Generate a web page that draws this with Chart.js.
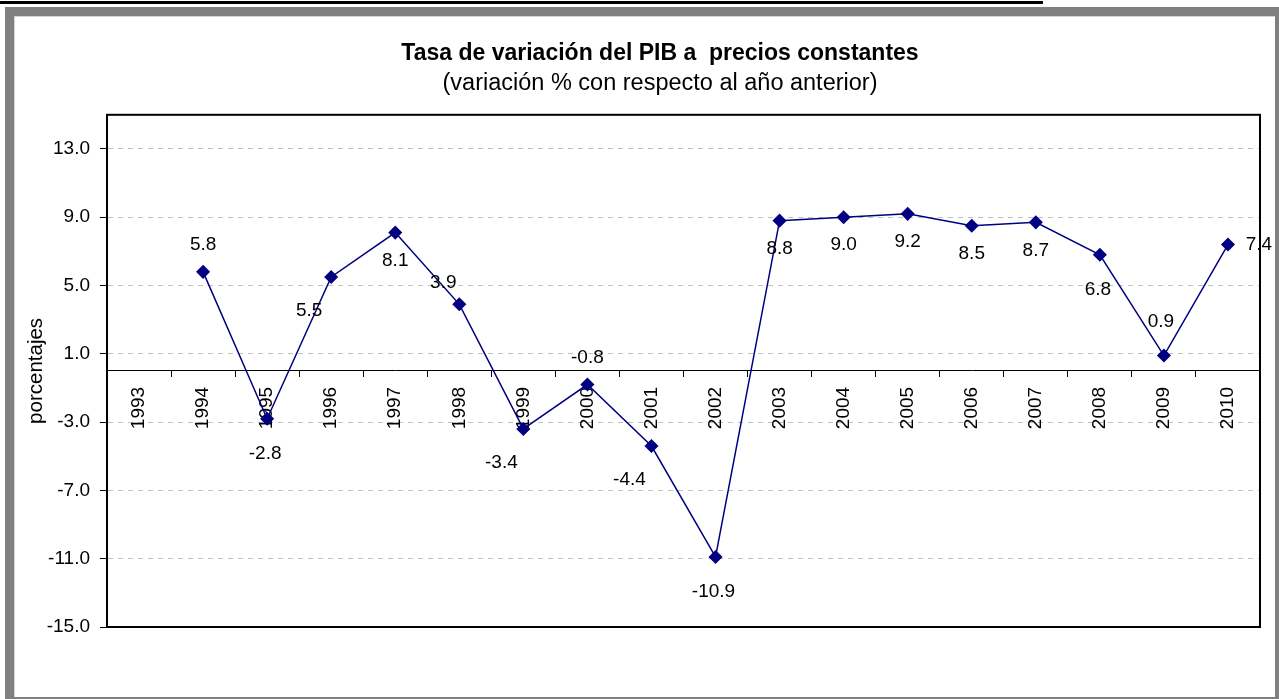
<!DOCTYPE html>
<html><head><meta charset="utf-8">
<script src="https://cdn.jsdelivr.net/npm/chart.js@4.4.0/dist/chart.umd.min.js"></script>
<style>
html,body{margin:0;padding:0;background:#fff;overflow:hidden;width:1279px;height:699px;position:relative;}
#topline{position:absolute;left:0;top:1px;width:1043px;height:3px;background:#000;}
#frame{position:absolute;left:5px;top:7px;width:1274px;height:692px;background:#808080;}
#inner{position:absolute;left:14px;top:16px;width:1261px;height:681px;background:#fff;border-left:1px solid #d4d4d4;border-top:1px solid #d4d4d4;box-sizing:border-box;}
#wrap{position:absolute;left:14px;top:16px;width:1292px;height:681px;}
</style></head>
<body>
<div id="topline"></div>
<div id="frame"></div>
<div id="inner"></div>
<div id="wrap"><canvas id="c" width="1292" height="681"></canvas></div>
<script>
const years = ['1993','1994','1995','1996','1997','1998','1999','2000','2001','2002','2003','2004','2005','2006','2007','2008','2009','2010'];
const growth = [null, 5.8, -2.8, 5.5, 8.1, 3.9, -3.4, -0.8, -4.4, -10.9, 8.8, 9.0, 9.2, 8.5, 8.7, 6.8, 0.9, 7.4];
const yTicks = [-15, -11, -7, -3, 1, 5, 9, 13];
const labelPlacement = ['none','above','belowFar','belowLeft','below','aboveLeft','belowLeft','above','belowLeft','belowFar','below','below','below','below','below','belowFar','aboveFar','right'];

const FONT = '"Liberation Sans", Arial, sans-serif';
const placeOffsets = {
  above: [0, -27], aboveFar: [-3, -34], below: [0, 28], belowFar: [-2, 35],
  belowLeft: [-22, 34], aboveLeft: [-16, -22], right: [31, 0]
};

const dataLabels = {
  id: 'dataLabels',
  afterDatasetsDraw(chart) {
    const ctx = chart.ctx;
    const meta = chart.getDatasetMeta(0);
    ctx.save();
    ctx.font = '19px ' + FONT;
    ctx.fillStyle = '#000';
    ctx.textAlign = 'center';
    ctx.textBaseline = 'middle';
    meta.data.forEach((pt, i) => {
      const v = growth[i];
      if (v === null) return;
      const off = placeOffsets[labelPlacement[i]] || [0, -27];
      ctx.fillText(v.toFixed(1), pt.x + off[0], pt.y + off[1]);
    });
    ctx.restore();
  }
};

const areaBorder = {
  id: 'areaBorder',
  beforeDatasetsDraw(chart) {
    const {ctx, chartArea: a} = chart;
    ctx.save();
    ctx.strokeStyle = '#000';
    ctx.lineWidth = 2;
    ctx.strokeRect(a.left, a.top, a.right - a.left, a.bottom - a.top);
    ctx.restore();
  }
};

// shift title/subtitle block so they are centred like the original sheet
const titleShift = {
  id: 'titleShift',
  afterLayout(chart) {
    chart.boxes.forEach(b => {
      if (b.position === 'top' && b.fullSize) { b.left = 46; }
    });
  }
};

new Chart(document.getElementById('c'), {
  type: 'line',
  data: {
    labels: years,
    datasets: [{
      data: growth,
      borderColor: '#000080',
      backgroundColor: '#000080',
      borderWidth: 1.5,
      pointStyle: 'rectRot',
      pointRadius: 6,
      pointHoverRadius: 6,
      tension: 0,
      spanGaps: false
    }]
  },
  options: {
    responsive: false,
    animation: false,
    devicePixelRatio: 1,
    layout: {padding: {left: 0, right: 46, top: 0, bottom: 70}},
    plugins: {
      legend: {display: false},
      tooltip: {enabled: false},
      title: {
        display: true,
        text: 'Tasa de variación del PIB a  precios constantes',
        color: '#000',
        font: {family: FONT, size: 23, weight: 'bold'},
        padding: {top: 24, bottom: 2}
      },
      subtitle: {
        display: true,
        text: '(variación % con respecto al año anterior)',
        color: '#000',
        font: {family: FONT, size: 23.5, weight: 'normal'},
        padding: {top: 0, bottom: 17}
      }
    },
    scales: {
      x: {
        position: {y: 0},
        offset: true,
        grid: {offset: true, drawOnChartArea: false, color: '#000', tickLength: 6, lineWidth: 1},
        border: {color: '#000', width: 1},
        ticks: {minRotation: 90, maxRotation: 90, autoSkip: false, color: '#000', font: {family: FONT, size: 19}, padding: 10},
        afterFit(s) { s.height = 0; }
      },
      y: {
        min: -15,
        max: 15,
        afterBuildTicks(s) { s.ticks = yTicks.map(v => ({value: v})); },
        ticks: {color: '#000', font: {family: FONT, size: 19}, padding: 10, callback: v => Number(v).toFixed(1)},
        grid: {color: '#c0c0c0', tickColor: '#000', tickLength: 7, lineWidth: 1},
        border: {color: '#000', width: 2, dash: [5, 5]},
        title: {display: true, text: 'porcentajes', color: '#000', font: {family: FONT, size: 20.5}, padding: {top: 10, bottom: 0}},
        afterFit(s) { s.width = 93; }
      }
    }
  },
  plugins: [areaBorder, dataLabels, titleShift]
});
</script>
</body></html>
